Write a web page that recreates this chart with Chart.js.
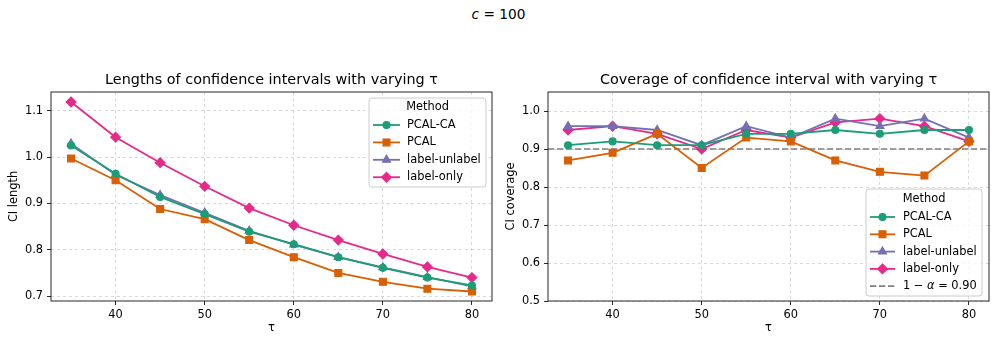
<!DOCTYPE html>
<html>
<head>
<meta charset="utf-8">
<script src="https://cdn.jsdelivr.net/npm/chart.js@4.4.0/dist/chart.umd.min.js"></script>
<style>
body { margin: 0; background: #fff; }
#wrap { position: relative; width: 997px; height: 345px; font-family: 'DejaVu Sans'; }
#sup { position: absolute; left: 0; width: 997px; top: 5px; text-align: center; font-size: 13.7px; line-height: 18px; color: #000; }
canvas { position: absolute; top: 0; }
</style>
</head>
<body>
<div id="wrap">
  <div id="sup"><i>c</i> = 100</div>
  <canvas id="lenChart" width="498" height="345" style="left:0"></canvas>
  <canvas id="covChart" width="499" height="345" style="left:498px"></canvas>
</div>
<script>
// tau values on the x axis
var taus = [35, 40, 45, 50, 55, 60, 65, 70, 75, 80];
var methods = ['PCAL-CA', 'PCAL', 'label-unlabel', 'label-only'];

// CI lengths
var lenPcalCa     = [1.025, 0.964, 0.914, 0.877, 0.839, 0.812, 0.784, 0.761, 0.740, 0.723];
var lenPcal       = [0.997, 0.950, 0.888, 0.866, 0.821, 0.784, 0.750, 0.731, 0.716, 0.710];
var lenLabelUnlab = [1.029, 0.962, 0.918, 0.880, 0.841, 0.811, 0.784, 0.762, 0.741, 0.721];
var lenLabelOnly  = [1.119, 1.043, 0.988, 0.937, 0.890, 0.853, 0.821, 0.791, 0.763, 0.740];

// CI coverage
var covPcalCa     = [0.91, 0.92, 0.91, 0.91, 0.94, 0.94, 0.95, 0.94, 0.95, 0.95];
var covPcal       = [0.87, 0.89, 0.94, 0.85, 0.93, 0.92, 0.87, 0.84, 0.83, 0.92];
var covLabelUnlab = [0.96, 0.96, 0.95, 0.91, 0.96, 0.93, 0.98, 0.96, 0.98, 0.93];
var covLabelOnly  = [0.95, 0.96, 0.94, 0.90, 0.95, 0.93, 0.97, 0.98, 0.96, 0.92];
var targetCoverage = 0.90;

var tauTicks = [40, 50, 60, 70, 80];
var lenTicks = [0.7, 0.8, 0.9, 1.0, 1.1];
var covTicks = [0.5, 0.6, 0.7, 0.8, 0.9, 1.0];
var xMin = 32.75, xMax = 82.25;

var colors = ['#1b9e77', '#d95f02', '#7570b3', '#e7298a'];
var markers = ['circle', 'rect', 'triangle', 'rectRot'];
var radii = [3.5, 4.9, 4.7, 4.9];
var FONT = 'DejaVu Sans';

function series(ys) {
    return ys.map(function (y, i) { return {x: taus[i], y: y}; });
}

function lineSets(arrs) {
    return arrs.map(function (ys, i) {
        return {
            label: methods[i],
            data: series(ys),
            borderColor: colors[i],
            backgroundColor: colors[i],
            borderWidth: 1.8,
            pointStyle: markers[i],
            pointRadius: radii[i],
            pointBorderWidth: 1.1,
            pointBorderColor: colors[i],
            pointBackgroundColor: colors[i],
            tension: 0
        };
    });
}

function drawMarker(ctx, style, r, x, y, color) {
    ctx.save();
    ctx.fillStyle = color;
    ctx.strokeStyle = color;
    ctx.lineWidth = 1.1;
    ctx.beginPath();
    if (style === 'circle') {
        ctx.arc(x, y, r, 0, Math.PI * 2);
    } else if (style === 'rect') {
        var s = r * Math.SQRT1_2;
        ctx.rect(x - s, y - s, 2 * s, 2 * s);
    } else if (style === 'triangle') {
        ctx.moveTo(x, y - r);
        ctx.lineTo(x + r * Math.sin(2 * Math.PI / 3), y + r * 0.5);
        ctx.lineTo(x - r * Math.sin(2 * Math.PI / 3), y + r * 0.5);
        ctx.closePath();
    } else {
        ctx.moveTo(x, y - r);
        ctx.lineTo(x + r, y);
        ctx.lineTo(x, y + r);
        ctx.lineTo(x - r, y);
        ctx.closePath();
    }
    ctx.fill();
    ctx.stroke();
    ctx.restore();
}

function roundRect(ctx, x, y, w, h, r) {
    ctx.beginPath();
    ctx.moveTo(x + r, y);
    ctx.lineTo(x + w - r, y);
    ctx.quadraticCurveTo(x + w, y, x + w, y + r);
    ctx.lineTo(x + w, y + h - r);
    ctx.quadraticCurveTo(x + w, y + h, x + w - r, y + h);
    ctx.lineTo(x + r, y + h);
    ctx.quadraticCurveTo(x, y + h, x, y + h - r);
    ctx.lineTo(x, y + r);
    ctx.quadraticCurveTo(x, y, x + r, y);
    ctx.closePath();
}

// spines, subplot title and the legend box
var decorPlugin = {
    id: 'decor',
    afterDraw: function (chart) {
        var o = chart.options.plugins.decor;
        var ctx = chart.ctx, a = chart.chartArea;
        ctx.save();
        ctx.strokeStyle = '#111';
        ctx.lineWidth = 0.9;
        ctx.strokeRect(a.left, a.top, a.right - a.left, a.bottom - a.top);

        ctx.fillStyle = '#000';
        ctx.font = '14.4px "' + FONT + '"';
        ctx.textAlign = 'center';
        ctx.textBaseline = 'alphabetic';
        ctx.fillText(o.title, (a.left + a.right) / 2, a.top - 8.5);

        var L = o.legend;
        roundRect(ctx, L.x, L.y, L.w, L.h, 3);
        ctx.fillStyle = 'rgba(255,255,255,0.8)';
        ctx.fill();
        ctx.strokeStyle = '#cccccc';
        ctx.lineWidth = 1;
        ctx.stroke();

        ctx.fillStyle = '#000';
        ctx.font = '11.4px "' + FONT + '"';
        ctx.textAlign = 'center';
        ctx.textBaseline = 'middle';
        ctx.fillText('Method', L.x + L.w / 2, L.titleY);

        var n = methods.length + (o.hline ? 1 : 0);
        for (var i = 0; i < n; i++) {
            var y = L.rowY + i * L.rowStep;
            ctx.save();
            if (i < methods.length) {
                ctx.strokeStyle = colors[i];
                ctx.lineWidth = 1.8;
            } else {
                ctx.strokeStyle = 'gray';
                ctx.lineWidth = 1.7;
                ctx.setLineDash([6.3, 2.7]);
            }
            ctx.beginPath();
            ctx.moveTo(L.hx0, y);
            ctx.lineTo(L.hx1, y);
            ctx.stroke();
            ctx.restore();
            if (i < methods.length) {
                drawMarker(ctx, markers[i], radii[i], (L.hx0 + L.hx1) / 2, y, colors[i]);
            }
            ctx.fillStyle = '#000';
            ctx.textAlign = 'left';
            ctx.textBaseline = 'middle';
            if (i < methods.length) {
                ctx.font = '11.4px "' + FONT + '"';
                ctx.fillText(methods[i], L.tx, y);
            } else {
                var parts = [['1 \u2212 ', ''], ['\u03b1', 'italic '], [' = 0.90', '']];
                var x = L.tx;
                parts.forEach(function (p) {
                    ctx.font = p[1] + '11.4px "' + FONT + '"';
                    ctx.fillText(p[0], x, y);
                    x += ctx.measureText(p[0]).width;
                });
            }
        }
        ctx.restore();
    }
};

function makeScales(yTicks, yMin, yMax, yTitle, yWidth, yTitlePad) {
    var tickFont = {family: FONT, size: 11.4};
    var grid = {
        color: 'rgba(176,176,176,0.6)',
        lineWidth: 0.8,
        drawTicks: true,
        tickLength: 4,
        tickColor: '#111',
        tickWidth: 0.9,
        tickBorderDash: []
    };
    return {
        x: {
            type: 'linear',
            min: xMin,
            max: xMax,
            afterBuildTicks: function (s) { s.ticks = tauTicks.map(function (v) { return {value: v}; }); },
            afterFit: function (s) { s.height = 44; },
            ticks: {color: '#000', font: tickFont, padding: 3, maxRotation: 0, callback: function (v) { return String(v); }},
            grid: grid,
            border: {display: false, dash: [3, 3]},
            title: {display: true, text: '\u03c4', color: '#000', font: tickFont, padding: {top: 0, bottom: 10}}
        },
        y: {
            type: 'linear',
            min: yMin,
            max: yMax,
            afterBuildTicks: function (s) { s.ticks = yTicks.map(function (v) { return {value: v}; }); },
            afterFit: function (s) { s.width = yWidth; },
            ticks: {color: '#000', font: tickFont, padding: 4, callback: function (v) { return v.toFixed(1); }},
            grid: grid,
            border: {display: false, dash: [3, 3]},
            title: {display: true, text: yTitle, color: '#000', font: tickFont, padding: {top: yTitlePad, bottom: 0}}
        }
    };
}

new Chart(document.getElementById('lenChart'), {
    type: 'line',
    data: {datasets: lineSets([lenPcalCa, lenPcal, lenLabelUnlab, lenLabelOnly])},
    options: {
        responsive: false,
        animation: false,
        devicePixelRatio: 1,
        layout: {padding: {top: 92, right: 6, bottom: 0, left: 0}},
        scales: makeScales(lenTicks, 0.6895, 1.1405, 'CI length', 51, 7),
        plugins: {
            legend: {display: false},
            tooltip: {enabled: false},
            decor: {
                title: 'Lengths of confidence intervals with varying \u03c4',
                hline: false,
                legend: {x: 369, y: 98, w: 117, h: 89, titleY: 107.5, rowY: 125, rowStep: 17.4, hx0: 373, hx1: 400, tx: 407}
            }
        }
    },
    plugins: [decorPlugin]
});

var covSets = lineSets([covPcalCa, covPcal, covLabelUnlab, covLabelOnly]);
covSets.push({
    label: '1 - alpha = 0.90',
    data: [{x: xMin, y: targetCoverage}, {x: xMax, y: targetCoverage}],
    borderColor: 'gray',
    borderWidth: 1.7,
    borderDash: [6.3, 2.7],
    pointRadius: 0
});

new Chart(document.getElementById('covChart'), {
    type: 'line',
    data: {datasets: covSets},
    options: {
        responsive: false,
        animation: false,
        devicePixelRatio: 1,
        layout: {padding: {top: 92, right: 8, bottom: 0, left: 0}},
        scales: makeScales(covTicks, 0.5, 1.05, 'CI coverage', 50, 6),
        plugins: {
            legend: {display: false},
            tooltip: {enabled: false},
            decor: {
                title: 'Coverage of confidence interval with varying \u03c4',
                hline: true,
                legend: {x: 368, y: 189, w: 116, h: 107, titleY: 199, rowY: 217, rowStep: 17.3, hx0: 372, hx1: 397, tx: 405}
            }
        }
    },
    plugins: [decorPlugin]
});
</script>
</body>
</html>
